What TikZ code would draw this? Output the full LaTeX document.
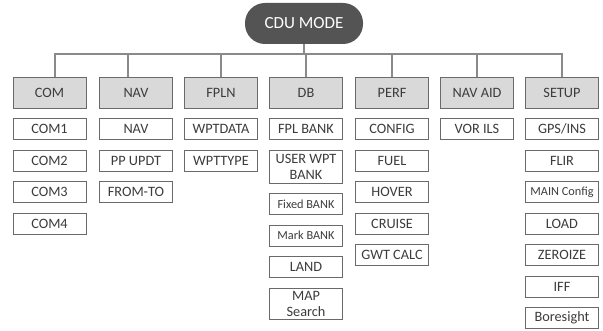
\documentclass[tikz,border=0pt]{standalone}
\usepackage{fontspec}
\setmainfont{Carlito}
\usetikzlibrary{positioning}

\definecolor{modegray}{HTML}{545454}
\definecolor{catfill}{HTML}{D9D9D9}
\definecolor{boxline}{HTML}{6A6A6A}
\definecolor{wiregray}{HTML}{8A8A8A}
\definecolor{txtgray}{HTML}{3C3C3C}

\begin{document}
\begin{tikzpicture}[
  x=1pt, y=-1pt,
  font=\fontsize{14.3}{16}\selectfont,
  node distance=9.6pt,
  mode/.style={fill=modegray,text=white,rounded corners=20pt,
               minimum width=118pt,minimum height=41pt,
               font=\fontsize{17}{19}\selectfont},
  cat/.style={draw=boxline,fill=catfill,text=txtgray,line width=0.9pt,
              minimum width=73pt,minimum height=31pt,inner sep=1pt},
  item/.style={draw=boxline,fill=white,text=txtgray,line width=0.9pt,
               minimum width=73pt,minimum height=21pt,inner sep=1pt,
               align=center},
  small/.style={font=\fontsize{12.3}{14}\selectfont},
  wire/.style={draw=wiregray,line width=1.1pt},
]
\useasboundingbox (0,0) rectangle (603,331);

%% root
\node[mode] (mode) at (304,23.5) {CDU MODE};

%% menu row
\node[cat] (com)   at (49.5,92.5) {COM};
\node[cat] (nav)   at (136,92.5)  {NAV};
\node[cat] (fpln)  at (221,92.5)  {FPLN};
\node[cat] (db)    at (306,92.5)  {DB};
\node[cat] (perf)  at (392,92.5)  {PERF};
\node[cat] (navaid) at (477,92.5) {NAV AID};
\node[cat] (setup) at (562,92.5)  {SETUP};

% bus between root and menu row
\coordinate (bus) at (0,54);
\coordinate (comtop) at ([xshift=5.5pt]com.north);
\coordinate (navtop) at ([xshift=-8pt]nav.north);
\draw[wire] (comtop) -- (comtop |- bus) -- (setup.north |- bus) -- (setup.north);
\draw[wire] (navtop) -- (navtop |- bus);
\foreach \c in {fpln,db,perf,navaid}
  \draw[wire] (\c.north) -- (\c.north |- bus);
\draw[wire] (mode.south) -- (mode.south |- bus);

%% COM
\node[item,below=of com]  (com1) {COM1};
\node[item,below=of com1] (com2) {COM2};
\node[item,below=of com2] (com3) {COM3};
\node[item,below=of com3] (com4) {COM4};

%% NAV
\node[item,below=of nav]    (navnav) {NAV};
\node[item,below=of navnav] (ppupdt) {PP UPDT};
\node[item,below=of ppupdt] (fromto) {FROM-TO};

%% FPLN
\node[item,below=of fpln]    (wptdata) {WPTDATA};
\node[item,below=of wptdata] (wpttype) {WPTTYPE};

%% DB
\node[item,below=of db]      (fplbank)  {FPL BANK};
\node[item,below=of fplbank,minimum height=33pt] (userwpt) {USER WPT\\BANK};
\node[item,small,below=of userwpt] (fixedbank) {Fixed BANK};
\node[item,small,below=of fixedbank] (markbank) {Mark BANK};
\node[item,below=of markbank] (land) {LAND};
\node[item,below=of land,minimum height=31pt] (mapsearch) {MAP\\Search};

%% PERF
\node[item,below=of perf]   (config) {CONFIG};
\node[item,below=of config] (fuel)   {FUEL};
\node[item,below=of fuel]   (hover)  {HOVER};
\node[item,below=of hover]  (cruise) {CRUISE};
\node[item,below=of cruise] (gwt)    {GWT CALC};

%% NAV AID
\node[item,below=of navaid] (vorils) {VOR ILS};

%% SETUP
\node[item,below=of setup]   (gpsins)  {GPS/INS};
\node[item,below=of gpsins]  (flir)    {FLIR};
\node[item,small,below=of flir] (mainconf) {MAIN Config};
\node[item,below=of mainconf] (load)   {LOAD};
\node[item,below=of load]    (zeroize) {ZEROIZE};
\node[item,below=of zeroize] (iff)     {IFF};
\node[item,below=of iff]     (boresight) {Boresight};

\end{tikzpicture}
\end{document}
